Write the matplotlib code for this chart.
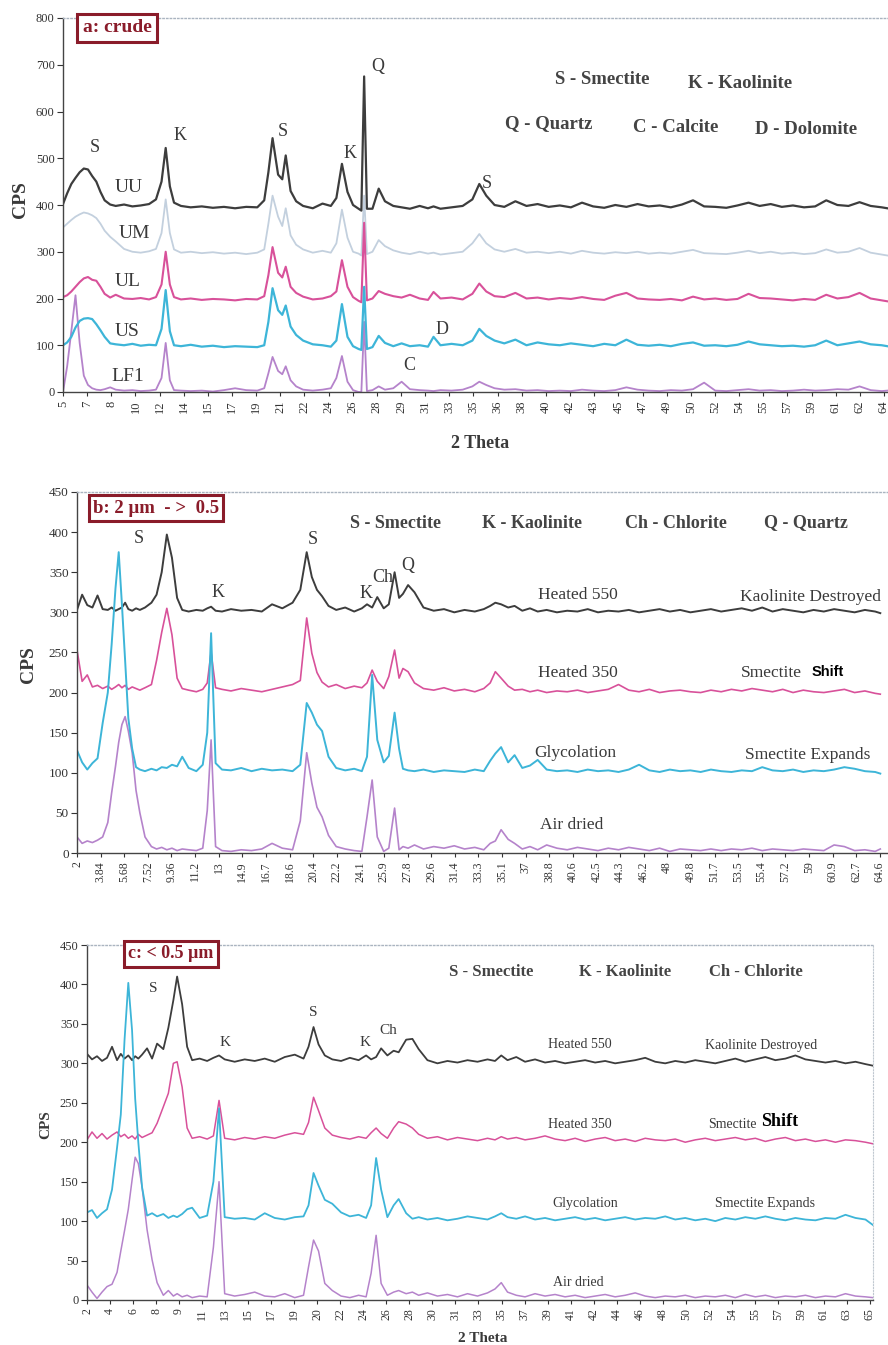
import numpy as np
import matplotlib.pyplot as plt

plt.rcParams['font.family'] = 'serif'
plt.rcParams['font.serif'] = ['Liberation Serif', 'DejaVu Serif']

# ---------------- panel a : crude (2 theta, CPS) ----------------
tt_a = [5.0, 5.3, 5.6, 5.9, 6.2, 6.5, 6.8, 7.1, 7.4, 7.7,
        8.0, 8.4, 8.8, 9.4, 10.0, 10.6, 11.2, 11.7, 12.1, 12.4,
        12.7, 13.0, 13.5, 14.2, 15.0, 15.8, 16.6, 17.4, 18.2, 19.0,
        19.5, 19.8, 20.1, 20.5, 20.8, 21.05, 21.4, 21.8, 22.3, 23.0,
        23.7, 24.3, 24.7, 25.1, 25.5, 25.9, 26.3, 26.5, 26.7, 26.9,
        27.3, 27.75, 28.2, 28.8, 29.4, 30.0, 30.7, 31.3, 31.7, 32.2,
        33.0, 33.8, 34.5, 35.0, 35.5, 36.1, 36.8, 37.6, 38.4, 39.2,
        40.0, 40.8, 41.6, 42.4, 43.2, 44.0, 44.8, 45.6, 46.4, 47.2,
        48.0, 48.8, 49.6, 50.4, 51.2, 52.0, 52.8, 53.6, 54.4, 55.2,
        56.0, 56.8, 57.6, 58.4, 59.2, 60.0, 60.8, 61.6, 62.4, 63.2,
        64.0, 64.4]
uu = [402, 425, 445, 458, 470, 478, 476, 462, 450, 428,
      410, 401, 398, 401, 397, 399, 402, 412, 450, 522,
      440, 405, 398, 395, 397, 394, 396, 393, 396, 395,
      410, 470, 543, 465, 455, 506, 430, 408, 398, 393,
      403, 398, 415, 488, 428, 400, 392, 388, 675, 392,
      392, 435, 408, 398, 395, 392, 398, 393, 397, 392,
      395, 398, 412, 445, 420, 400, 396, 408, 398, 402,
      396, 399, 395, 405, 397, 394, 400, 396, 402, 397,
      399, 395, 401, 410, 397, 396, 394, 399, 405, 398,
      402, 396, 399, 395, 397, 410, 400, 398, 406, 398,
      395, 393]
um = [352, 360, 368, 375, 380, 384, 382, 378, 372, 360,
      345, 332, 322, 306, 300, 298, 301, 306, 340, 412,
      340, 305, 298, 300, 297, 299, 296, 298, 295, 298,
      305, 360, 420, 375, 355, 393, 335, 315, 305, 298,
      302, 298, 318, 390, 330, 300, 296, 292, 420, 295,
      300, 325, 312, 303, 298, 295, 300, 296, 298, 294,
      297, 300, 318, 338, 318, 305, 300, 306, 298, 300,
      297, 300, 296, 302, 298, 296, 299, 297, 300, 296,
      298, 296, 300, 304, 297, 296, 295, 298, 302, 297,
      300, 296, 298, 295, 297, 305, 298, 300, 308, 298,
      294, 292]
ul = [203, 207, 215, 225, 235, 243, 246, 240, 238, 225,
      210, 202, 208, 200, 199, 201, 198, 203, 230, 300,
      230, 203, 198, 200, 197, 199, 198, 196, 199, 198,
      205, 250, 310, 255, 245, 268, 225, 212, 204, 198,
      200, 205, 215, 282, 225, 203, 195, 192, 362, 196,
      200, 216, 210, 205, 202, 208, 200, 197, 214, 200,
      202, 198, 210, 232, 215, 205, 203, 212, 200, 202,
      198, 201, 199, 203, 199, 197, 206, 212, 200, 198,
      197, 199, 196, 204, 198, 200, 197, 199, 210, 201,
      200, 198, 196, 199, 197, 208, 200, 203, 212, 200,
      196, 194]
us = [100, 106, 118, 138, 152, 157, 158, 156, 145, 132,
      118, 104, 102, 100, 103, 99, 101, 100, 135, 218,
      130, 100, 98, 101, 97, 99, 96, 98, 97, 96,
      100, 150, 222, 175, 165, 185, 140, 122, 110, 102,
      100, 97, 110, 188, 118, 98, 92, 90, 225, 92,
      96, 120, 105, 98, 104, 98, 100, 97, 118, 100,
      103, 100, 110, 135, 120, 110, 104, 112, 100, 106,
      102, 100, 104, 101, 98, 103, 100, 112, 101, 99,
      101, 98, 103, 106, 99, 100, 98, 101, 108, 102,
      100, 98, 99, 97, 100, 110, 100, 104, 108, 102,
      100, 98]
lf1 = [0, 55, 130, 207, 105, 35, 15, 8, 5, 4,
       6, 10, 5, 3, 4, 2, 3, 5, 30, 105,
       25, 4, 3, 2, 3, 1, 4, 8, 4, 3,
       8, 40, 75, 45, 38, 55, 25, 12, 5, 3,
       5, 8, 30, 77, 22, 4, 0, 0, 150, 2,
       4, 12, 5, 8, 22, 6, 4, 3, 2, 4,
       3, 5, 12, 22, 15, 8, 5, 6, 3, 4,
       2, 3, 2, 5, 3, 2, 4, 10, 5, 3,
       2, 4, 3, 6, 20, 3, 2, 4, 6, 3,
       4, 2, 3, 5, 3, 4, 6, 5, 12, 4,
       2, 3]
labels_a = ['5', '7', '8', '10', '12', '14', '15', '17', '19', '21', '22', '24',
            '26', '28', '29', '31', '33', '35', '36', '38', '40', '42', '43', '45',
            '47', '49', '50', '52', '54', '55', '57', '59', '61', '62', '64']

# ---------------- panel b : 2 um -> 0.5 ----------------
tt_b = [2.0, 2.4, 2.8, 3.2, 3.6, 4.0, 4.4, 4.7, 5.0, 5.25,
        5.5, 5.75, 6.0, 6.3, 6.6, 6.9, 7.3, 7.8, 8.2, 8.6,
        9.0, 9.4, 9.8, 10.2, 10.7, 11.3, 11.8, 12.15, 12.45, 12.8,
        13.3, 14.0, 14.8, 15.6, 16.4, 17.2, 18.0, 18.8, 19.4, 19.9,
        20.3, 20.7, 21.1, 21.6, 22.2, 22.9, 23.6, 24.2, 24.6, 25.0,
        25.4, 25.9, 26.3, 26.75, 27.1, 27.4, 27.8, 28.3, 29.0, 29.8,
        30.6, 31.4, 32.2, 33.0, 33.7, 34.2, 34.6, 35.05, 35.6, 36.1,
        36.7, 37.3, 37.9, 38.6, 39.4, 40.2, 41.0, 41.8, 42.6, 43.4,
        44.2, 45.0, 45.8, 46.6, 47.4, 48.2, 49.0, 49.8, 50.6, 51.4,
        52.2, 53.0, 53.8, 54.6, 55.4, 56.2, 57.0, 57.8, 58.6, 59.4,
        60.2, 61.0, 61.8, 62.6, 63.4, 64.2, 64.6]
h550_b = [303, 322, 309, 306, 321, 304, 303, 306, 302, 304,
          306, 312, 304, 302, 305, 303, 306, 312, 322, 350,
          397, 368, 318, 303, 301, 303, 302, 305, 307, 302,
          301, 304, 302, 303, 301, 310, 305, 312, 328, 375,
          344, 328, 320, 308, 303, 306, 301, 305, 310, 306,
          319, 305, 310, 350, 318, 323, 334, 325, 306, 302,
          304, 300, 303, 301, 304, 308, 312, 310, 306, 308,
          302, 305, 301, 303, 300, 302, 301, 304, 300, 302,
          301, 303, 300, 302, 304, 301, 303, 300, 302, 304,
          301, 303, 305, 302, 306, 301, 304, 302, 300, 303,
          301, 304, 302, 300, 303, 301, 299]
h350_b = [253, 214, 222, 207, 209, 205, 208, 204, 207, 210,
          206, 209, 204, 207, 205, 203, 206, 210, 240, 275,
          305, 272, 218, 205, 203, 201, 204, 212, 250, 206,
          204, 202, 205, 203, 201, 204, 207, 210, 215, 293,
          249, 225, 213, 207, 210, 205, 208, 206, 212, 228,
          214, 205, 220, 253, 218, 230, 226, 212, 205, 203,
          206, 202, 204, 201, 205, 212, 226, 218, 208, 203,
          204, 201, 203, 200, 202, 201, 203, 200, 202, 204,
          210, 203, 201, 204, 200, 202, 203, 201, 200, 203,
          201, 204, 202, 205, 203, 201, 204, 200, 203, 201,
          200, 202, 204, 200, 202, 199, 198]
gly_b = [128, 113, 104, 112, 118, 162, 200, 260, 330, 375,
         310, 240, 168, 130, 107, 104, 102, 105, 103, 107,
         106, 110, 108, 120, 106, 102, 110, 150, 274, 112,
         104, 103, 106, 102, 105, 103, 104, 102, 110, 187,
         175, 160, 152, 120, 106, 103, 105, 102, 120, 222,
         141, 113, 121, 175, 130, 105, 103, 102, 104, 101,
         103, 102, 101, 104, 102, 115, 124, 132, 113, 122,
         106, 109, 116, 104, 102, 103, 101, 104, 102, 103,
         101, 104, 110, 103, 101, 104, 102, 103, 101, 104,
         102, 101, 103, 102, 107, 103, 102, 104, 101, 103,
         102, 104, 107, 105, 102, 101, 99]
air_b = [20, 12, 15, 13, 16, 20, 38, 75, 108, 138,
         160, 170, 152, 125, 78, 50, 20, 8, 5, 7,
         4, 6, 3, 5, 4, 3, 6, 53, 141, 8,
         3, 2, 4, 3, 5, 12, 6, 4, 40, 125,
         87, 57, 45, 22, 8, 5, 3, 2, 45, 91,
         20, 2, 6, 56, 4, 8, 6, 10, 5, 8,
         6, 9, 5, 7, 4, 12, 15, 29, 17, 12,
         5, 8, 4, 10, 6, 4, 7, 5, 3, 6,
         4, 7, 5, 3, 6, 2, 5, 4, 3, 5,
         3, 5, 4, 6, 3, 5, 4, 3, 5, 4,
         3, 10, 8, 3, 4, 2, 5]
labels_b = ['2', '3.84', '5.68', '7.52', '9.36', '11.2', '13', '14.9', '16.7',
            '18.6', '20.4', '22.2', '24.1', '25.9', '27.8', '29.6', '31.4', '33.3',
            '35.1', '37', '38.8', '40.6', '42.5', '44.3', '46.2', '48', '49.8',
            '51.7', '53.5', '55.4', '57.2', '59', '60.9', '62.7', '64.6']

# ---------------- panel c : < 0.5 um ----------------
tt_c = [2.0, 2.4, 2.8, 3.2, 3.6, 4.0, 4.4, 4.7, 5.0, 5.3,
        5.6, 5.85, 6.1, 6.4, 6.8, 7.2, 7.6, 8.1, 8.5, 8.9,
        9.2, 9.6, 10.0, 10.4, 11.0, 11.6, 12.1, 12.55, 13.0, 13.8,
        14.6, 15.4, 16.2, 17.0, 17.8, 18.6, 19.3, 19.7, 20.1, 20.5,
        21.0, 21.6, 22.3, 23.0, 23.7, 24.3, 24.7, 25.1, 25.5, 26.0,
        26.5, 26.9, 27.5, 28.0, 28.5, 29.2, 30.0, 30.8, 31.6, 32.4,
        33.2, 34.0, 34.6, 35.1, 35.6, 36.3, 37.0, 37.8, 38.6, 39.4,
        40.2, 41.0, 41.8, 42.6, 43.4, 44.2, 45.0, 45.8, 46.6, 47.4,
        48.2, 49.0, 49.8, 50.6, 51.4, 52.2, 53.0, 53.8, 54.6, 55.4,
        56.2, 57.0, 57.8, 58.6, 59.4, 60.2, 61.0, 61.8, 62.6, 63.4,
        64.2, 64.8]
h550_c = [312, 305, 309, 303, 307, 321, 304, 312, 306, 310,
          304, 309, 306, 311, 319, 306, 325, 318, 345, 380,
          410, 375, 321, 304, 306, 303, 307, 310, 305, 302,
          305, 303, 306, 302, 308, 311, 306, 321, 346, 324,
          310, 305, 303, 307, 304, 310, 305, 308, 319, 310,
          316, 314, 330, 331, 318, 304, 300, 303, 301, 304,
          302, 305, 303, 310, 304, 308, 302, 305, 301, 303,
          300, 302, 304, 301, 303, 300, 302, 304, 307, 302,
          300, 303, 301, 304, 302, 300, 303, 306, 302, 305,
          308, 304, 306, 310, 305, 303, 301, 303, 300, 302,
          299, 297]
h350_c = [203, 213, 205, 211, 204, 209, 213, 207, 210, 205,
          208, 204, 210, 206, 209, 212, 224, 245, 262, 300,
          302, 270, 218, 205, 207, 204, 208, 253, 205, 203,
          206, 204, 207, 205, 209, 212, 210, 225, 257, 240,
          218, 209, 206, 204, 207, 205, 212, 218, 211, 205,
          218, 226, 223, 218, 210, 205, 207, 203, 206, 204,
          202, 205, 203, 207, 204, 206, 203, 205, 208, 204,
          202, 205, 201, 204, 206, 202, 204, 201, 205, 203,
          202, 204, 200, 203, 205, 202, 204, 206, 203, 205,
          201, 204, 206, 202, 204, 201, 203, 200, 203, 202,
          200, 198]
gly_c = [111, 114, 104, 110, 115, 140, 193, 235, 330, 402,
         342, 255, 200, 143, 107, 110, 106, 109, 104, 107,
         105, 109, 115, 117, 104, 107, 150, 243, 105, 103,
         104, 102, 110, 104, 102, 105, 106, 120, 161, 145,
         127, 122, 111, 106, 108, 104, 120, 180, 140, 105,
         120, 128, 110, 103, 105, 102, 104, 101, 103, 106,
         104, 102, 106, 110, 105, 103, 106, 102, 104, 101,
         103, 105, 102, 104, 101, 103, 105, 102, 104, 103,
         106, 102, 104, 101, 103, 100, 104, 102, 105, 103,
         106, 103, 101, 104, 102, 101, 104, 103, 108, 104,
         102, 95]
air_c = [19, 10, 2, 10, 17, 20, 35, 62, 88, 115,
         152, 181, 173, 143, 89, 51, 22, 6, 12, 5,
         8, 4, 6, 3, 5, 4, 67, 150, 8, 5,
         7, 10, 5, 4, 8, 3, 6, 42, 76, 62,
         21, 12, 5, 3, 6, 4, 34, 82, 21, 6,
         10, 12, 8, 10, 6, 9, 5, 7, 4, 8,
         5, 9, 14, 22, 10, 6, 4, 8, 5, 7,
         4, 6, 3, 5, 7, 4, 6, 9, 5, 3,
         5, 4, 6, 3, 5, 4, 6, 3, 7, 4,
         6, 3, 5, 4, 6, 3, 5, 4, 8, 5,
         4, 3]
labels_c = ['2', '4', '6', '8', '9', '11', '13', '15', '17', '19', '20', '22',
            '24', '26', '28', '30', '31', '33', '35', '37', '39', '41', '42', '44',
            '46', '48', '50', '52', '54', '55', '57', '59', '61', '63', '65']

C_DARK = '#3d3d3d'
C_LIGHT = '#c3d0de'
C_PINK = '#d8519a'
C_CYAN = '#3db5d8'
C_LAV = '#b583cb'
MAROON = '#8a1c2a'
TXT = '#3a3a3a'

W, H = 888, 1345
fig = plt.figure(figsize=(W / 100, H / 100), dpi=100)


def px_axes(l, t, r, b):
    return fig.add_axes([l / W, 1 - b / H, (r - l) / W, (b - t) / H])


def ftext(x, y, s, **kw):
    kw.setdefault('ha', 'center')
    kw.setdefault('va', 'center')
    kw.setdefault('color', TXT)
    fig.text(x / W, 1 - y / H, s, **kw)


def style(ax, x0, step, labels, xmax, ymax, ystep, xfs, yfs, right_dotted=False):
    ax.set_xlim(x0, xmax)
    ax.set_ylim(0, ymax)
    ax.set_xticks(x0 + step * np.arange(len(labels)))
    ax.set_xticklabels(labels, rotation=90)
    ax.set_yticks(np.arange(0, ymax + 1, ystep))
    ax.tick_params(axis='x', labelsize=xfs, length=3, pad=3, colors='#333333')
    ax.tick_params(axis='y', labelsize=yfs, length=4, pad=2, colors='#333333')
    for s in ['left', 'bottom']:
        ax.spines[s].set_color('#444444')
        ax.spines[s].set_linewidth(1.0)
    ax.spines['top'].set_color('#aab4c0')
    ax.spines['top'].set_linestyle(':')
    ax.spines['top'].set_linewidth(1.0)
    if right_dotted:
        ax.spines['right'].set_color('#c0c8d0')
        ax.spines['right'].set_linestyle(':')
    else:
        ax.spines['right'].set_visible(False)
    ax.patch.set_alpha(0)


# ---- panel a
ax1 = px_axes(63, 18, 888, 392)
ax1.plot(tt_a, um, color=C_LIGHT, lw=1.3)
ax1.plot(tt_a, lf1, color=C_LAV, lw=1.3)
ax1.plot(tt_a, ul, color=C_PINK, lw=1.5)
ax1.plot(tt_a, us, color=C_CYAN, lw=1.6)
ax1.plot(tt_a, uu, color=C_DARK, lw=1.6)
style(ax1, 5, 1.74, labels_a, 64.45, 800, 100, 9, 9)

ftext(20, 200, 'CPS', rotation=90, fontsize=14, fontweight='bold')
ftext(480, 443, '2 Theta', fontsize=13, fontweight='bold')
ftext(117, 28, 'a: crude', fontsize=14, fontweight='bold', color=MAROON,
      bbox=dict(boxstyle='square,pad=0.3', fc='white', ec=MAROON, lw=2.2))
for s, x, y in [('S - Smectite', 602, 80), ('K - Kaolinite', 740, 83),
                ('Q - Quartz', 549, 124), ('C - Calcite', 676, 127),
                ('D - Dolomite', 806, 130)]:
    ftext(x, y, s, fontsize=13.5, fontweight='bold', color='#444444')
for s, x, y in [('S', 95, 147), ('K', 180, 136), ('S', 283, 132), ('K', 350, 153),
                ('Q', 378, 67), ('S', 487, 183), ('D', 442, 329), ('C', 409, 366)]:
    ftext(x, y, s, fontsize=13)
for s, x, y in [('UU', 129, 188), ('UM', 134, 233), ('UL', 128, 282),
                ('US', 127, 332), ('LF1', 128, 377)]:
    ftext(x, y, s, fontsize=14)

# ---- panel b
ax2 = px_axes(77, 492, 888, 853)
ax2.plot(tt_b, h550_b, color=C_DARK, lw=1.4)
ax2.plot(tt_b, h350_b, color=C_PINK, lw=1.2)
ax2.plot(tt_b, air_b, color=C_LAV, lw=1.2)
ax2.plot(tt_b, gly_b, color=C_CYAN, lw=1.4)
style(ax2, 2, 1.84, labels_b, 65.2, 450, 50, 8.5, 9.5)

ftext(28, 665, 'CPS', rotation=90, fontsize=14, fontweight='bold')
ftext(156, 508, 'b: 2 \u00b5m  - >  0.5', fontsize=13.5, fontweight='bold', color=MAROON,
      bbox=dict(boxstyle='square,pad=0.22', fc='white', ec=MAROON, lw=2.2))
for s, x in [('S - Smectite', 395), ('K - Kaolinite', 532),
             ('Ch - Chlorite', 676), ('Q - Quartz', 806)]:
    ftext(x, 523, s, fontsize=13, fontweight='bold', color='#444444')
for s, x, y in [('S', 139, 539), ('S', 313, 540), ('K', 218, 593), ('K', 366, 594),
                ('Ch', 383, 577), ('Q', 408, 566)]:
    ftext(x, y, s, fontsize=13)
ftext(578, 595, 'Heated 550', fontsize=12.5)
ftext(740, 597, 'Kaolinite Destroyed', fontsize=12.5, ha='left')
ftext(578, 673, 'Heated 350', fontsize=12.5)
ftext(741, 673, 'Smectite', fontsize=12.5, ha='left')
ftext(812, 672, 'Shift', fontsize=10.5, ha='left', color='black', fontweight='bold',
      family=['Liberation Sans', 'DejaVu Sans'])
ftext(575, 753, 'Glycolation', fontsize=12.5)
ftext(808, 755, 'Smectite Expands', fontsize=12.5)
ftext(572, 825, 'Air dried', fontsize=12.5)

# ---- panel c
ax3 = px_axes(87, 945, 873, 1300)
ax3.plot(tt_c, h550_c, color=C_DARK, lw=1.3)
ax3.plot(tt_c, h350_c, color=C_PINK, lw=1.1)
ax3.plot(tt_c, air_c, color=C_LAV, lw=1.1)
ax3.plot(tt_c, gly_c, color=C_CYAN, lw=1.3)
style(ax3, 2, 1.84, labels_c, 64.8, 450, 50, 8.5, 9, right_dotted=True)

ftext(46, 1125, 'CPS', rotation=90, fontsize=11, fontweight='bold')
ftext(483, 1338, '2 Theta', fontsize=11, fontweight='bold')
ftext(171, 954, 'c: < 0.5 \u00b5m', fontsize=13, fontweight='bold', color=MAROON,
      bbox=dict(boxstyle='square,pad=0.25', fc='white', ec=MAROON, lw=2.2))
for s, x in [('S - Smectite', 491), ('K - Kaolinite', 625), ('Ch - Chlorite', 756)]:
    ftext(x, 972, s, fontsize=12, fontweight='bold', color='#444444')
for s, x, y in [('S', 153, 988), ('S', 313, 1012), ('K', 225, 1043), ('K', 365, 1043),
                ('Ch', 388, 1030)]:
    ftext(x, y, s, fontsize=11)
ftext(580, 1045, 'Heated 550', fontsize=10)
ftext(705, 1046, 'Kaolinite Destroyed', fontsize=10, ha='left')
ftext(580, 1125, 'Heated 350', fontsize=10)
ftext(708, 1124, 'Smectite', fontsize=10, ha='left')
ftext(761, 1121, 'Shift', fontsize=13, ha='left', color='black', fontweight='bold')
ftext(585, 1204, 'Glycolation', fontsize=10)
ftext(765, 1204, 'Smectite Expands', fontsize=10)
ftext(578, 1282, 'Air dried', fontsize=10)

fig.savefig('out.png', dpi=100)
